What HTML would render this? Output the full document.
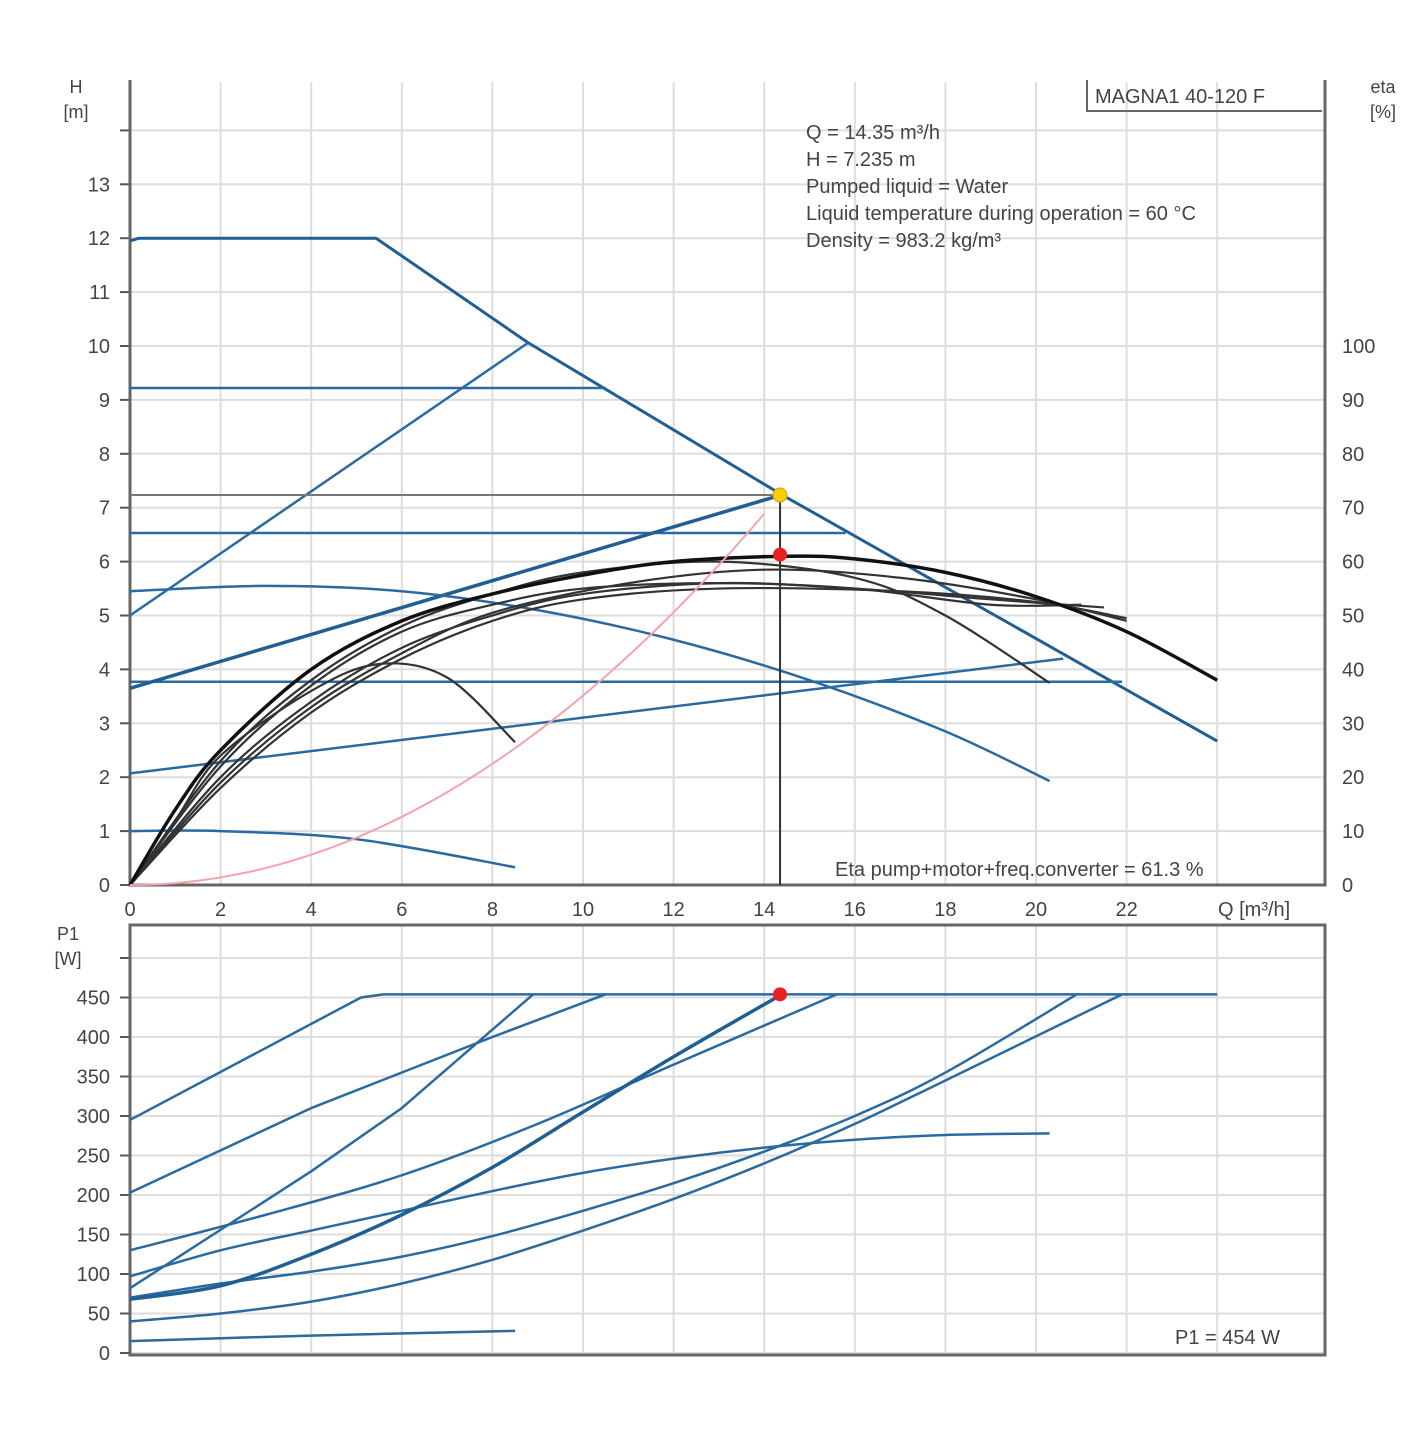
<!DOCTYPE html>
<html><head><meta charset="utf-8"><style>
html,body{margin:0;padding:0;background:#fff}
svg text{font-family:"Liberation Sans",sans-serif;fill:#444}
</style></head><body>
<svg id="c" width="1425" height="1425" viewBox="0 0 1425 1425" xmlns="http://www.w3.org/2000/svg">
<g id="grid"></g>
<g id="marks"></g>
<g id="labels"></g>
</svg>
<script>
// ---- data (Q in m3/h, H in m, P1 in W) ----
const qTicks=[0,2,4,6,8,10,12,14,16,18,20,22];
const hTicks=[0,1,2,3,4,5,6,7,8,9,10,11,12,13];
const etaTicks=[0,10,20,30,40,50,60,70,80,90,100];
const pTicks=[0,50,100,150,200,250,300,350,400,450];
const hMax=[[0,11.95],[0.2,12],[5.43,12],[8.79,10.06],[14.39,7.24],[24,2.67]];
const hPropA=[[0,5.0],[8.79,10.06]];
const hConst1=[[0,9.22],[10.5,9.22]];
const hConst2=[[0,6.53],[15.8,6.53]];
const hConst3=[[0,3.77],[21.9,3.77]];
const hProp1=[[0,3.65],[14.39,7.24]];
const hProp2=[[0,2.07],[20.6,4.2]];
const hCurveA=[[0,5.45],[3,5.55],[6,5.45],[9,5.1],[12,4.55],[15,3.8],[18,2.85],[20.3,1.93]];
const hCurveB=[[0,1.0],[2,1.0],[5,0.85],[8.5,0.33]];
const etaMain=[[0,0],[1,1.4],[2,2.5],[4,4.0],[6,4.9],[8,5.4],[10,5.75],[12,6.0],[14.5,6.1],[16,6.05],[18,5.8],[20,5.35],[22,4.7],[24,3.8]];
const etaB=[[0,0],[2,2.3],[4,3.8],[6,4.8],[8,5.4],[10,5.8],[13,6.0],[16,5.7],[18,5.0],[20.3,3.75]];
const etaC=[[0,0],[1,1.2],[2,2.4],[4,3.6],[5.5,4.1],[7,3.85],[8.5,2.65]];
const etaD=[[0,0],[2,2.0],[4,3.4],[6,4.4],[8,5.0],[10,5.4],[13,5.6],[16,5.5],[19,5.3],[21.5,5.15]];
const etaE=[[0,0],[2,1.8],[4,3.2],[6,4.2],[8,4.9],[10,5.3],[13,5.5],[17,5.45],[20,5.25],[22,4.95]];
const etaF=[[0,0],[2,2.2],[4,3.7],[6,4.7],[8,5.2],[10,5.5],[13,5.6],[16,5.5],[19,5.2],[21,5.2]];
const etaG=[[0,0],[2,1.9],[4,3.3],[6,4.3],[8,5.05],[11,5.6],[14,5.85],[17,5.7],[20,5.3],[22,4.9]];
const opQ=14.35, opH=7.235, opEta=6.13, opP=454;
const pMax=[[0,295],[5.1,450],[5.6,454],[24,454]];
const pA=[[0,203],[4,310],[8,400],[10.5,454]];
const pB=[[0,82],[4,230],[6,310],[8.9,454]];
const pC=[[0,130],[3,175],[6,225],[9,290],[12,365],[15.6,454]];
const pD=[[0,68],[2,85],[4,125],[6,175],[8,235],[10,305],[12,375],[14.39,454]];
const pE=[[0,97],[2,130],[4,155],[6,180],[8,205],[10,228],[12,246],[14,260],[16,270],[18,276],[20.3,278]];
const pF=[[0,70],[2,88],[4,103],[6,122],[8,148],[10,180],[12,215],[14,255],[16,300],[18,355],[20.9,454]];
const pG=[[0,40],[2,50],[4,65],[6,88],[8,118],[10,155],[12,195],[14,240],[16,290],[18,345],[21.9,454]];
const pH=[[0,15],[4,22],[8.5,28]];

// ---- axes ----
const X=q=>130+q*45.3;
const YH=h=>885-h*53.9;
const YP=p=>1353-p*0.79;
const NS="http://www.w3.org/2000/svg";
function mk(tag,attrs,parent){const e=document.createElementNS(NS,tag);for(const k in attrs)e.setAttribute(k,attrs[k]);document.getElementById(parent).appendChild(e);return e;}
function smooth(pts,fx,fy){const P=pts.map(p=>[fx(p[0]),fy(p[1])]);let d="M"+P[0][0]+","+P[0][1];
 for(let i=0;i<P.length-1;i++){const p0=P[i-1]||P[i],p1=P[i],p2=P[i+1],p3=P[i+2]||p2;
  if(pts.length<=2){d+=" L"+p2[0]+","+p2[1];continue;}
  d+=" C"+(p1[0]+(p2[0]-p0[0])/6)+","+(p1[1]+(p2[1]-p0[1])/6)+" "+(p2[0]-(p3[0]-p1[0])/6)+","+(p2[1]-(p3[1]-p1[1])/6)+" "+p2[0]+","+p2[1];}
 return d;}
function line(pts,fy,color,w,name,lin){const d=lin?"M"+pts.map(p=>X(p[0])+","+fy(p[1])).join(" L"):smooth(pts,X,fy);
 const e=mk("path",{d:d,fill:"none",stroke:color,"stroke-width":w,"stroke-linejoin":"round"},"marks");
 
 }
function txt(x,y,s,anchor,size,name){const e=mk("text",{x:x,y:y,"text-anchor":anchor||"start","font-size":size||20},"labels");e.textContent=s;
 
 }

// grid top
qTicks.concat([24]).forEach(q=>{const g=mk("line",{x1:X(q),x2:X(q),y1:82,y2:885,stroke:"#ddd","stroke-width":2},"grid");
 const g2=mk("line",{x1:X(q),x2:X(q),y1:925,y2:1353,stroke:"#ddd","stroke-width":2},"grid");});
hTicks.concat([14]).forEach(h=>{const g=mk("line",{x1:130,x2:1325,y1:YH(h),y2:YH(h),stroke:"#ddd","stroke-width":2},"grid");
 const t=mk("line",{x1:120,x2:130,y1:YH(h),y2:YH(h),stroke:"#555","stroke-width":2},"grid");});
pTicks.concat([500]).forEach(p=>{const g=mk("line",{x1:130,x2:1325,y1:YP(p),y2:YP(p),stroke:"#ddd","stroke-width":2},"grid");
 const t=mk("line",{x1:120,x2:130,y1:YP(p),y2:YP(p),stroke:"#555","stroke-width":2},"grid");});
// frames
[["M130,80 V885 H1325 V80","top-axes"],["M130,925 H1325 V1355 H130 Z","p1-frame"]].forEach(a=>{const e=mk("path",{d:a[0],fill:"none",stroke:"#666","stroke-width":3},"grid");});

// H series
line(hMax,YH,"#1f5f94",3,"max-curve",true);
line(hPropA,YH,"#2a6aa0",2.5,"prop-line-a",true);
line(hConst1,YH,"#2a6aa0",2.5,"const-pressure-1",true);
line(hConst2,YH,"#2a6aa0",2.5,"const-pressure-2",true);
line(hConst3,YH,"#2a6aa0",2.5,"const-pressure-3",true);
line(hProp1,YH,"#1f5f94",3.5,"prop-pressure-1",true);
line(hProp2,YH,"#2a6aa0",2.5,"prop-pressure-2",true);
line(hCurveA,YH,"#2a6aa0",2.5,"curve-a",false);
line(hCurveB,YH,"#2a6aa0",2.5,"curve-b",false);
[etaB,etaC,etaD,etaE,etaF,etaG].forEach((s,i)=>line(s,YH,"#333",2.2,"eta-curve-"+i,false));
line(etaMain,YH,"#111",3.5,"eta-main",false);
// system curve
const sys=[];for(let q=0;q<=opQ+0.01;q+=0.5)sys.push([Math.min(q,opQ),opH*Math.pow(Math.min(q,opQ)/opQ,2)]);
line(sys,YH,"#f4a3aa",2,"system-curve",false);
// op lines
line([[0,opH],[opQ,opH]],YH,"#777",2,"op-h-line",true);
line([[opQ,0],[opQ,opH]],YH,"#333",2,"op-q-line",true);
let c=mk("circle",{cx:X(opQ),cy:YH(opH),r:7,fill:"#f5d000",stroke:"#e0a000"},"marks");
c=mk("circle",{cx:X(opQ),cy:YH(opEta),r:7,fill:"#e82020"},"marks");

// P series
[pMax,pA,pB,pC,pE,pF,pG,pH].forEach((s,i)=>line(s,YP,"#2a6aa0",2.5,"p1-curve-"+i,s.length<=4&&i<3));
line(pD,YP,"#1f5f94",3.5,"p1-curve-duty",false);
c=mk("circle",{cx:X(opQ),cy:YP(opP),r:7,fill:"#e82020"},"marks");

// labels
hTicks.forEach(h=>txt(110,YH(h)+7,String(h),"end",20,"h-tick-label"));
etaTicks.forEach(e=>txt(1342,YH(e/10)+7,String(e),"start",20,"eta-tick-label"));
qTicks.forEach(q=>txt(X(q),916,String(q),"middle",20,"q-tick-label"));
pTicks.forEach(p=>txt(110,YP(p)+7,String(p),"end",20,"p1-tick-label"));
txt(76,93,"H","middle",18,"h-axis-title");txt(76,118,"[m]","middle",18,"h-axis-unit");
txt(1383,93,"eta","middle",18,"eta-axis-title");txt(1383,118,"[%]","middle",18,"eta-axis-unit");
txt(1218,916,"Q [m³/h]","start",20,"q-axis-title");
txt(68,940,"P1","middle",18,"p1-axis-title");txt(68,965,"[W]","middle",18,"p1-axis-unit");
["Q = 14.35 m³/h","H = 7.235 m","Pumped liquid = Water","Liquid temperature during operation = 60 °C","Density = 983.2 kg/m³"].forEach((s,i)=>txt(806,139+i*27,s,"start",20,"info-line"));
const b=mk("path",{d:"M1087,80 V111 H1322",fill:"none",stroke:"#666","stroke-width":2},"labels");
txt(1095,103,"MAGNA1 40-120 F","start",20,"model-name");
txt(835,876,"Eta pump+motor+freq.converter = 61.3 %","start",20,"eta-annotation");
txt(1175,1344,"P1 = 454 W","start",20,"p1-annotation");
</script>
</body></html>
